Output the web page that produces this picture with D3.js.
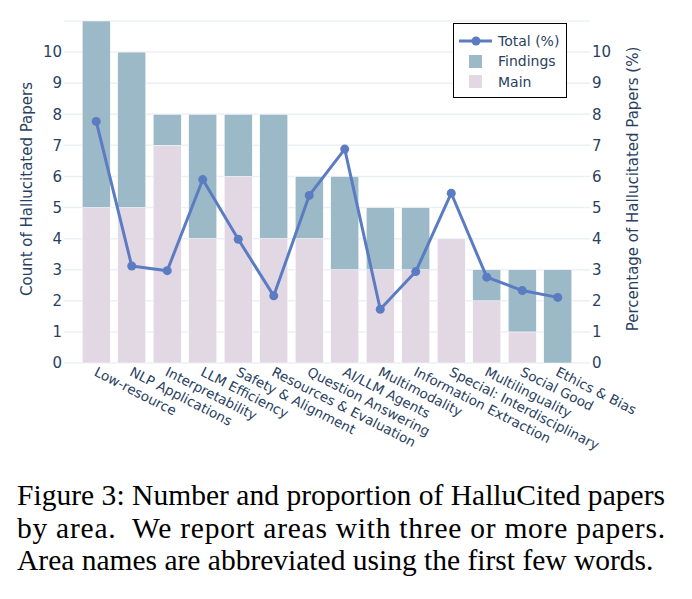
<!DOCTYPE html>
<html>
<head>
<meta charset="utf-8">
<script src="https://cdn.jsdelivr.net/npm/d3@7"></script>
<style>
  body { margin: 0; background: #fff; }
  svg { display: block; }
</style>
</head>
<body>
<div id="chart"></div>
<script>
const areas = ["Low-resource", "NLP Applications", "Interpretability", "LLM Efficiency",
  "Safety & Alignment", "Resources & Evaluation", "Question Answering", "AI/LLM Agents",
  "Multimodality", "Information Extraction", "Special: Interdisciplinary", "Multilinguality",
  "Social Good", "Ethics & Bias"];
const mainCounts = [5, 5, 7, 4, 6, 4, 4, 3, 3, 3, 4, 2, 1, 0];
const findingsCounts = [6, 5, 1, 4, 2, 4, 2, 3, 2, 2, 0, 1, 2, 3];
const totalPct = [7.77, 3.12, 2.97, 5.9, 3.98, 2.16, 5.39, 6.88, 1.73, 2.94, 5.46, 2.76, 2.33, 2.11];
const yTicks = [0, 1, 2, 3, 4, 5, 6, 7, 8, 9, 10];
const captionLines = [
  "Figure 3: Number and proportion of HalluCited papers",
  "by area.  We report areas with three or more papers.",
  "Area names are abbreviated using the first few words."
];

const W = 692, H = 599;
const plot = {left: 64, right: 590, top: 21, bottom: 363};
const textColor = "#2a3f5f";
const gridColor = "#ebf0f8";
const mainColor = "#e2d8e3";
const findColor = "#9bb9c7";
const lineColor = "#5b7cc2";
const font = "DejaVu Sans, Verdana, sans-serif";

const svg = d3.select("#chart").append("svg")
  .attr("width", W).attr("height", H);

const x = d3.scaleBand()
  .domain(areas)
  .range([plot.left, plot.right])
  .paddingInner(0.21)
  .paddingOuter(0.513);

const y = d3.scaleLinear().domain([0, 11]).range([plot.bottom, plot.top]);
const y2 = d3.scaleLinear().domain([0, 11]).range([plot.bottom, plot.top]);

// grid
svg.append("g")
  .selectAll("line")
  .data(d3.range(0, 12))
  .join("line")
    .attr("x1", plot.left).attr("x2", plot.right)
    .attr("y1", d => y(d)).attr("y2", d => y(d))
    .attr("stroke", gridColor).attr("stroke-width", 1.5);

// stacked bars
const rows = areas.map((a, i) => ({area: a, main: mainCounts[i], findings: findingsCounts[i]}));
const stacked = d3.stack().keys(["main", "findings"])(rows);
const colors = {main: mainColor, findings: findColor};

svg.append("g")
  .selectAll("g")
  .data(stacked)
  .join("g")
    .attr("fill", d => colors[d.key])
  .selectAll("rect")
  .data(d => d)
  .join("rect")
    .attr("x", d => x(d.data.area))
    .attr("width", x.bandwidth())
    .attr("y", d => y(d[1]))
    .attr("height", d => y(d[0]) - y(d[1]))
    .attr("stroke", "#fff")
    .attr("stroke-width", 0.5);

// left axis
const yAxisL = d3.axisLeft(y).tickValues(yTicks).tickSize(0).tickPadding(2);
const gL = svg.append("g")
  .attr("transform", `translate(${plot.left},0)`)
  .call(yAxisL);
gL.select(".domain").remove();
gL.selectAll("text")
  .attr("fill", textColor).style("font-family", font).style("font-size", "15px");

// right axis
const yAxisR = d3.axisRight(y2).tickValues(yTicks).tickSize(0).tickPadding(2);
const gR = svg.append("g")
  .attr("transform", `translate(${plot.right},0)`)
  .call(yAxisR);
gR.select(".domain").remove();
gR.selectAll("text")
  .attr("fill", textColor).style("font-family", font).style("font-size", "15px");

// x labels
const gX = svg.append("g")
  .attr("transform", `translate(0,${plot.bottom})`)
  .call(d3.axisBottom(x).tickSize(0).tickPadding(0));
gX.select(".domain").remove();
gX.selectAll(".tick text")
  .attr("fill", textColor)
  .style("font-family", font).style("font-size", "13.5px")
  .attr("text-anchor", "start")
  .attr("dy", null)
  .attr("y", 0)
  .attr("transform", "translate(-3,12) rotate(27)");

// axis titles
svg.append("text")
  .attr("transform", `translate(32,${(plot.top + plot.bottom) / 2 - 3}) rotate(-90)`)
  .attr("text-anchor", "middle")
  .attr("fill", textColor).style("font-family", font).style("font-size", "15px")
  .text("Count of Hallucitated Papers");

svg.append("text")
  .attr("transform", `translate(638,${(plot.top + plot.bottom) / 2 - 3}) rotate(-90)`)
  .attr("text-anchor", "middle")
  .attr("fill", textColor).style("font-family", font).style("font-size", "15px")
  .text("Percentage of Hallucitated Papers (%)");

// line
const cx = a => x(a) + x.bandwidth() / 2;
const lineData = areas.map((a, i) => ({area: a, v: totalPct[i]}));
svg.append("path")
  .datum(lineData)
  .attr("fill", "none")
  .attr("stroke", lineColor)
  .attr("stroke-width", 3)
  .attr("stroke-linejoin", "round")
  .attr("d", d3.line().x(d => cx(d.area)).y(d => y2(d.v)));

svg.append("g")
  .selectAll("circle")
  .data(lineData)
  .join("circle")
    .attr("cx", d => cx(d.area))
    .attr("cy", d => y2(d.v))
    .attr("r", 4.5)
    .attr("fill", lineColor);

// legend
const lg = svg.append("g");
lg.append("rect")
  .attr("x", 453.5).attr("y", 23.5).attr("width", 113).attr("height", 74)
  .attr("fill", "#fff").attr("stroke", "#000").attr("stroke-width", 1);
lg.append("line")
  .attr("x1", 459).attr("x2", 492).attr("y1", 41).attr("y2", 41)
  .attr("stroke", lineColor).attr("stroke-width", 3);
lg.append("circle").attr("cx", 476).attr("cy", 41).attr("r", 4.5).attr("fill", lineColor);
lg.append("rect").attr("x", 469).attr("y", 55).attr("width", 13).attr("height", 13).attr("fill", findColor);
lg.append("rect").attr("x", 469).attr("y", 75).attr("width", 13).attr("height", 13).attr("fill", mainColor);
const legendLabels = ["Total (%)", "Findings", "Main"];
lg.selectAll(".lt")
  .data(legendLabels)
  .join("text")
    .attr("x", 498)
    .attr("y", (d, i) => 41 + i * 20.5)
    .attr("dy", "0.35em")
    .attr("fill", textColor).style("font-family", font).style("font-size", "14px")
    .text(d => d);

// caption
svg.append("g")
  .selectAll("text")
  .data(captionLines)
  .join("text")
    .attr("x", 17)
    .attr("y", (d, i) => 505 + i * 32.5)
    .attr("fill", "#000")
    .style("font-family", "Liberation Serif, Times New Roman, serif")
    .style("font-size", "29.5px")
    .style("white-space", "pre")
    .attr("textLength", (d, i) => i < 2 ? 648 : null)
    .attr("lengthAdjust", "spacing")
    .text(d => d);
</script>
</body>
</html>
